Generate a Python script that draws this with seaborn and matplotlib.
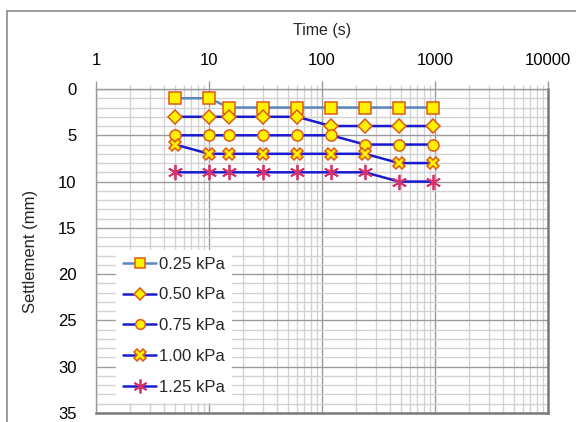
import matplotlib
matplotlib.use("Agg")
import matplotlib.pyplot as plt
import matplotlib.ticker as mticker
from matplotlib.lines import Line2D
import numpy as np
import pandas as pd
import seaborn as sns

# Elapsed time of each reading (s)
time_s = [5, 10, 15, 30, 60, 120, 240, 480, 960]

# Settlement readings (mm) for each applied pressure
settle_025 = [1, 1, 2, 2, 2, 2, 2, 2, 2]
settle_050 = [3, 3, 3, 3, 3, 4, 4, 4, 4]
settle_075 = [5, 5, 5, 5, 5, 5, 6, 6, 6]
settle_100 = [6, 7, 7, 7, 7, 7, 7, 8, 8]
settle_125 = [9, 9, 9, 9, 9, 9, 9, 10, 10]

loads = ["0.25 kPa", "0.50 kPa", "0.75 kPa", "1.00 kPa", "1.25 kPa"]
series = [settle_025, settle_050, settle_075, settle_100, settle_125]

x_ticks = [1, 10, 100, 1000, 10000]
y_ticks = [0, 5, 10, 15, 20, 25, 30, 35]

df = pd.DataFrame(
    [(t, v, lab) for lab, vals in zip(loads, series) for t, v in zip(time_s, vals)],
    columns=["Time (s)", "Settlement (mm)", "Load"],
)

sns.set_theme(style="white")
plt.rcParams["font.family"] = ["Liberation Sans", "DejaVu Sans"]

fig = plt.figure(figsize=(5.76, 4.22), dpi=100)
ax = fig.add_axes([96 / 576, 1 - 413 / 422, (548 - 96) / 576, (413 - 89) / 422])

line_colors = ["#5B86C0", "#1A1AD0", "#1A1AD0", "#1A1AD0", "#1A1AD0"]
markers = ["s", "D", "o", "X", (6, 2, 0)]
msizes = [8, 7, 8, 9, 11]
face = "#FFF200"
edge = "#E05A10"
star = "#D8306A"

sns.lineplot(data=df, x="Time (s)", y="Settlement (mm)", hue="Load",
             palette=dict(zip(loads, line_colors)), lw=1.8, legend=False,
             ax=ax, zorder=3)

for lab, vals, m, ms, lc in zip(loads, series, markers, msizes, line_colors):
    if lab == "1.25 kPa":
        ax.plot(time_s, vals, ls="none", marker=m, ms=ms, mec=star,
                mew=1.3, zorder=4)
    else:
        ax.plot(time_s, vals, ls="none", marker=m, ms=ms, mfc=face, mec=edge,
                mew=1.1, zorder=4)

ax.set_xscale("log")
ax.set_xlim(1, 10000)
ax.set_ylim(35, 0)
ax.xaxis.set_ticks_position("top")
ax.xaxis.set_label_position("top")
ax.set_xticks(x_ticks)
ax.xaxis.set_major_formatter(mticker.FuncFormatter(lambda v, p: f"{v:g}"))
ax.xaxis.set_minor_locator(mticker.LogLocator(base=10, subs=np.arange(2, 10)))
ax.xaxis.set_minor_formatter(mticker.NullFormatter())
ax.set_yticks(y_ticks)
ax.yaxis.set_minor_locator(mticker.MultipleLocator(1))

ax.grid(which="major", color="#9A9A9A", lw=1.0, zorder=0)
ax.grid(which="minor", color="#D2D2D2", lw=1.0, zorder=0)
ax.set_axisbelow(True)

ax.tick_params(axis="both", which="major", direction="out", length=6,
               width=1, color="#9A9A9A", labelsize=12, labelcolor="black")
ax.tick_params(axis="both", which="minor", direction="out", length=3,
               width=1, color="#D2D2D2")
ax.tick_params(axis="x", which="major", pad=9)
ax.tick_params(axis="y", which="major", pad=8)

ax.set_xlabel("Time (s)", fontsize=11.5, labelpad=13)
ax.set_ylabel("Settlement (mm)", fontsize=12, labelpad=14)

for side in ["left", "top"]:
    ax.spines[side].set_color("#9A9A9A")
    ax.spines[side].set_linewidth(1.0)
for side in ["right", "bottom"]:
    ax.spines[side].set_color("#7A7A7A")
    ax.spines[side].set_linewidth(1.8)

handles = []
for lab, m, ms, lc in zip(loads, markers, msizes, line_colors):
    if lab == "1.25 kPa":
        h = Line2D([], [], color=lc, lw=1.8, marker=m, ms=ms - 1, mec=star, mew=1.3)
    else:
        h = Line2D([], [], color=lc, lw=1.8, marker=m, ms=ms - 1, mfc=face,
                   mec=edge, mew=1.1)
    handles.append(h)
leg = ax.legend(handles, loads, loc="lower left", bbox_to_anchor=(0.045, 0.035),
                frameon=True, fancybox=False, edgecolor="white", facecolor="white",
                framealpha=1, fontsize=12, handlelength=2.0, handletextpad=0.15,
                labelspacing=0.95, borderpad=0.4, borderaxespad=0)
leg.set_zorder(5)

# Outer chart border
fig.add_artist(Line2D([7 / 576, 7 / 576], [0, 1 - 11 / 422], color="#8C8C8C", lw=1.2))
fig.add_artist(Line2D([7 / 576, 1], [1 - 11 / 422, 1 - 11 / 422], color="#8C8C8C", lw=1.2))

fig.savefig("out.png", dpi=100, facecolor="white")
